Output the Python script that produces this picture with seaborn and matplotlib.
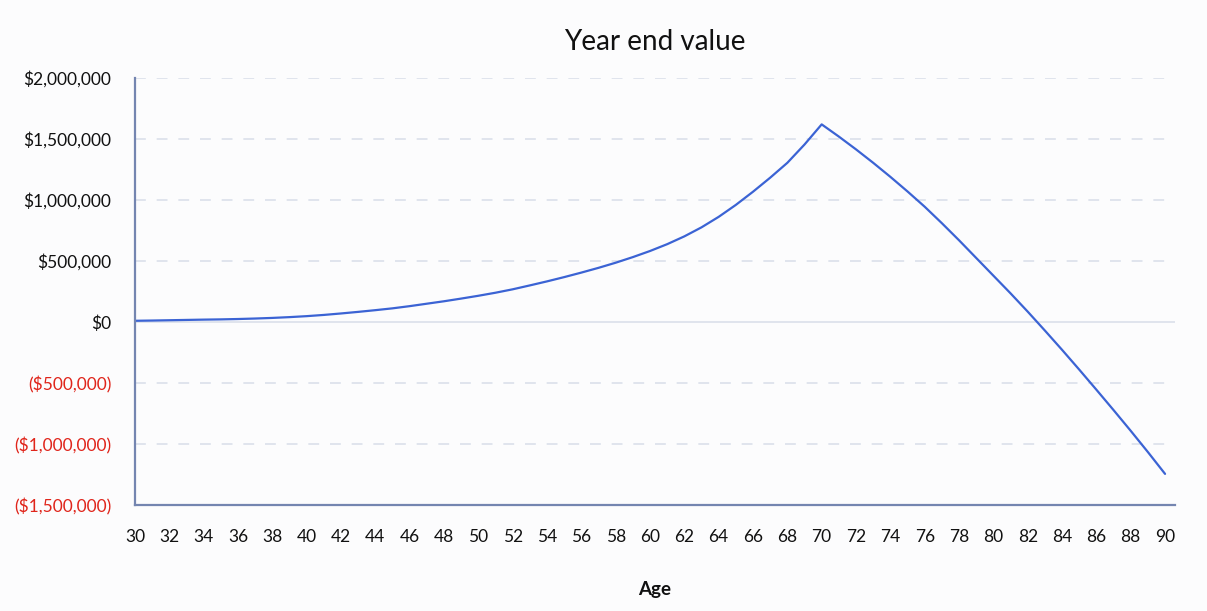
import pandas as pd
import matplotlib.pyplot as plt
import matplotlib.ticker as mticker
import seaborn as sns

# --- Data ---
ages = list(range(30, 91))
year_end_value = [
    10000, 12000, 14500, 17000, 19500, 21500, 24500, 28500, 33500, 40000,      # 30-39
    48000, 58000, 70000, 83000, 97000, 112000, 130000, 150000, 170000, 192000,  # 40-49
    215000, 240000, 268000, 300000, 333000, 368000, 405000, 444000, 486000, 532000,  # 50-59
    582000, 638000, 702000, 776000, 862000, 960000, 1068000, 1183000, 1305000, 1455000,  # 60-69
    1620000, 1520000, 1415000, 1305000, 1190000, 1070000, 945000, 810000, 670000, 525000,  # 70-79
    380000, 235000, 85000, -70000, -228000, -390000, -555000, -722000, -892000, -1066000,  # 80-89
    -1245000,  # 90
]
x_ticks = list(range(30, 91, 2))
y_ticks = [-1500000, -1000000, -500000, 0, 500000, 1000000, 1500000, 2000000]

df = pd.DataFrame({"age": ages, "value": year_end_value})

sns.set_theme(style="white")
plt.rcParams['font.family'] = ['Lato', 'DejaVu Sans']

bg = "#fcfcfd"
fig = plt.figure(figsize=(12.07, 6.11), dpi=100, facecolor=bg)
ax = fig.add_axes([0.1118, 0.1735, 0.9735 - 0.1118, 0.8723 - 0.1735])
ax.set_facecolor(bg)

sns.lineplot(data=df, x="age", y="value", ax=ax, color="#3b63d4", linewidth=1.6)

ax.set_xlim(30, 90.58)
ax.set_ylim(-1500000, 2000000)
ax.set_xticks(x_ticks)
ax.set_yticks(y_ticks)


def money(v, pos=None):
    if v < 0:
        return f"(${abs(v):,.0f})"
    return f"${v:,.0f}"


ax.yaxis.set_major_formatter(mticker.FuncFormatter(money))
ax.tick_params(axis="both", length=0, labelsize=12.5, colors="#111111")
ax.tick_params(axis="y", pad=17)
ax.tick_params(axis="x", pad=17)
for lbl, v in zip(ax.get_yticklabels(), y_ticks):
    if v < 0:
        lbl.set_color("#e0251b")

# grid lines: dashed, zero line solid
for v in y_ticks:
    if v == 0:
        ax.axhline(v, color="#dde2ec", linewidth=1.3, zorder=0)
    elif v > -1500000:
        ax.axhline(v, color="#dde2ec", linewidth=1.3, linestyle=(0, (6, 6)), zorder=0)

for side in ["top", "right"]:
    ax.spines[side].set_visible(False)
for side in ["left", "bottom"]:
    ax.spines[side].set_color("#7485b0")
    ax.spines[side].set_linewidth(1.6)

ax.set_title("Year end value", fontsize=20, color="#111111", pad=20)
ax.set_xlabel("Age", fontsize=13.5, fontweight="bold", color="#111111", labelpad=26)
ax.set_ylabel("")

fig.savefig("out.png", dpi=100, facecolor=bg)
